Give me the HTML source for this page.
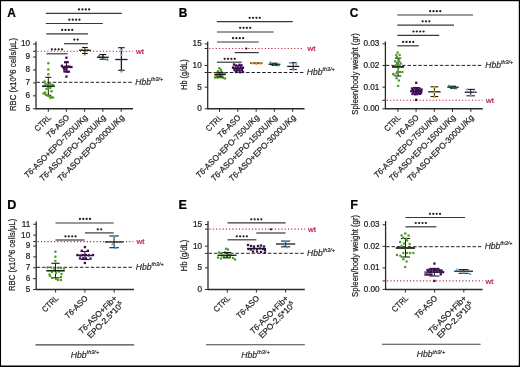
<!DOCTYPE html>
<html><head><meta charset="utf-8"><style>
html,body{margin:0;padding:0;background:#fff;}
#fig{position:relative;width:520px;height:367px;overflow:hidden;background:#fff;}
svg{position:absolute;left:0;top:0;will-change:transform;}
text{font-family:"Liberation Sans", sans-serif;}
</style></head><body><div id="fig">
<svg width="520" height="367" viewBox="0 0 520 367">
<rect x="0" y="0" width="520" height="367" fill="#fff"/>
<text x="7.30" y="16.50" font-size="11.9" fill="#000" stroke="#000" stroke-width="0.22" font-weight="bold">A</text>
<text x="178.80" y="16.60" font-size="11.9" fill="#000" stroke="#000" stroke-width="0.22" font-weight="bold">B</text>
<text x="349.80" y="16.50" font-size="11.9" fill="#000" stroke="#000" stroke-width="0.22" font-weight="bold">C</text>
<text x="7.20" y="208.70" font-size="12.6" fill="#000" stroke="#000" stroke-width="0.22" font-weight="bold">D</text>
<text x="178.60" y="208.70" font-size="12.6" fill="#000" stroke="#000" stroke-width="0.22" font-weight="bold">E</text>
<text x="350.30" y="208.70" font-size="12.6" fill="#000" stroke="#000" stroke-width="0.22" font-weight="bold">F</text>
<line x1="36.00" y1="41.50" x2="36.00" y2="109.30" stroke="#2a2a2a" stroke-width="1.3" stroke-linecap="butt"/>
<line x1="36.00" y1="108.80" x2="133.00" y2="108.80" stroke="#2a2a2a" stroke-width="1.4" stroke-linecap="butt"/>
<line x1="33.00" y1="108.80" x2="36.00" y2="108.80" stroke="#2a2a2a" stroke-width="1.0" stroke-linecap="butt"/>
<text x="30.00" y="111.20" font-size="8.2" fill="#222" stroke="#222" stroke-width="0.22" text-anchor="end">5</text>
<line x1="33.00" y1="95.85" x2="36.00" y2="95.85" stroke="#2a2a2a" stroke-width="1.0" stroke-linecap="butt"/>
<text x="30.00" y="98.25" font-size="8.2" fill="#222" stroke="#222" stroke-width="0.22" text-anchor="end">6</text>
<line x1="33.00" y1="82.90" x2="36.00" y2="82.90" stroke="#2a2a2a" stroke-width="1.0" stroke-linecap="butt"/>
<text x="30.00" y="85.30" font-size="8.2" fill="#222" stroke="#222" stroke-width="0.22" text-anchor="end">7</text>
<line x1="33.00" y1="69.95" x2="36.00" y2="69.95" stroke="#2a2a2a" stroke-width="1.0" stroke-linecap="butt"/>
<text x="30.00" y="72.35" font-size="8.2" fill="#222" stroke="#222" stroke-width="0.22" text-anchor="end">8</text>
<line x1="33.00" y1="57.00" x2="36.00" y2="57.00" stroke="#2a2a2a" stroke-width="1.0" stroke-linecap="butt"/>
<text x="30.00" y="59.40" font-size="8.2" fill="#222" stroke="#222" stroke-width="0.22" text-anchor="end">9</text>
<line x1="33.00" y1="44.05" x2="36.00" y2="44.05" stroke="#2a2a2a" stroke-width="1.0" stroke-linecap="butt"/>
<text x="30.00" y="46.45" font-size="8.2" fill="#222" stroke="#222" stroke-width="0.22" text-anchor="end">10</text>
<line x1="33.00" y1="51.30" x2="36.00" y2="51.30" stroke="#2a2a2a" stroke-width="1.0" stroke-linecap="butt"/>
<line x1="48.30" y1="108.80" x2="48.30" y2="111.80" stroke="#2a2a2a" stroke-width="1.0" stroke-linecap="butt"/>
<line x1="66.40" y1="108.80" x2="66.40" y2="111.80" stroke="#2a2a2a" stroke-width="1.0" stroke-linecap="butt"/>
<line x1="84.60" y1="108.80" x2="84.60" y2="111.80" stroke="#2a2a2a" stroke-width="1.0" stroke-linecap="butt"/>
<line x1="102.90" y1="108.80" x2="102.90" y2="111.80" stroke="#2a2a2a" stroke-width="1.0" stroke-linecap="butt"/>
<line x1="121.20" y1="108.80" x2="121.20" y2="111.80" stroke="#2a2a2a" stroke-width="1.0" stroke-linecap="butt"/>
<line x1="37.50" y1="51.30" x2="133.10" y2="51.30" stroke="#b8194b" stroke-width="1.1" stroke-dasharray="1.1 2.17" stroke-linecap="butt"/>
<line x1="36.50" y1="82.30" x2="132.50" y2="82.30" stroke="#222" stroke-width="1.0" stroke-dasharray="3.5 1.9" stroke-linecap="butt"/>
<text x="136.10" y="53.90" font-size="8" fill="#b8194b" stroke="#b8194b" stroke-width="0.22">wt</text>
<text x="135.30" y="84.70" font-size="8.5" fill="#333" stroke="#333" stroke-width="0.22" font-style="italic"><tspan>Hbb</tspan><tspan font-size="5.4" dy="-3.9">th3/+</tspan></text>
<text x="15.50" y="74.50" font-size="9.6" fill="#222" stroke="#222" stroke-width="0.22" text-anchor="middle" transform="rotate(-90 15.5 74.5)" textLength="73" lengthAdjust="spacingAndGlyphs">RBC (x10^6 cells/µL)</text>
<line x1="45.80" y1="13.30" x2="121.80" y2="13.30" stroke="#383838" stroke-width="1.2" stroke-linecap="butt"/>
<circle cx="79.04" cy="9.40" r="1.12" fill="#1c1c1c"/>
<circle cx="82.41" cy="9.40" r="1.12" fill="#1c1c1c"/>
<circle cx="85.78" cy="9.40" r="1.12" fill="#1c1c1c"/>
<circle cx="89.16" cy="9.40" r="1.12" fill="#1c1c1c"/>
<line x1="45.80" y1="23.50" x2="102.80" y2="23.50" stroke="#383838" stroke-width="1.2" stroke-linecap="butt"/>
<circle cx="69.34" cy="19.70" r="1.12" fill="#1c1c1c"/>
<circle cx="72.72" cy="19.70" r="1.12" fill="#1c1c1c"/>
<circle cx="76.09" cy="19.70" r="1.12" fill="#1c1c1c"/>
<circle cx="79.46" cy="19.70" r="1.12" fill="#1c1c1c"/>
<line x1="46.30" y1="33.80" x2="87.90" y2="33.80" stroke="#383838" stroke-width="1.2" stroke-linecap="butt"/>
<circle cx="62.15" cy="29.90" r="1.12" fill="#1c1c1c"/>
<circle cx="65.52" cy="29.90" r="1.12" fill="#1c1c1c"/>
<circle cx="68.89" cy="29.90" r="1.12" fill="#1c1c1c"/>
<circle cx="72.25" cy="29.90" r="1.12" fill="#1c1c1c"/>
<line x1="63.90" y1="43.70" x2="87.90" y2="43.70" stroke="#383838" stroke-width="1.2" stroke-linecap="butt"/>
<circle cx="74.31" cy="39.60" r="1.12" fill="#1c1c1c"/>
<circle cx="77.69" cy="39.60" r="1.12" fill="#1c1c1c"/>
<line x1="46.40" y1="53.80" x2="67.50" y2="53.80" stroke="#383838" stroke-width="1.2" stroke-linecap="butt"/>
<circle cx="51.95" cy="49.30" r="1.12" fill="#1c1c1c"/>
<circle cx="55.31" cy="49.30" r="1.12" fill="#1c1c1c"/>
<circle cx="58.69" cy="49.30" r="1.12" fill="#1c1c1c"/>
<circle cx="62.05" cy="49.30" r="1.12" fill="#1c1c1c"/>
<text font-size="8.3" fill="#222" stroke="#222" stroke-width="0.22" text-anchor="end" textLength="19.6" lengthAdjust="spacingAndGlyphs" transform="translate(51.70,118.10) rotate(-45)">CTRL</text>
<text font-size="8.3" fill="#222" stroke="#222" stroke-width="0.22" text-anchor="end" textLength="28.8" lengthAdjust="spacingAndGlyphs" transform="translate(69.80,118.10) rotate(-45)"><tspan font-style="italic">T6</tspan>-ASO</text>
<text font-size="8.3" fill="#222" stroke="#222" stroke-width="0.22" text-anchor="end" textLength="85.5" lengthAdjust="spacingAndGlyphs" transform="translate(88.00,118.10) rotate(-45)"><tspan font-style="italic">T6</tspan>-ASO+EPO-750U/Kg</text>
<text font-size="8.3" fill="#222" stroke="#222" stroke-width="0.22" text-anchor="end" textLength="90.0" lengthAdjust="spacingAndGlyphs" transform="translate(106.30,118.10) rotate(-45)"><tspan font-style="italic">T6</tspan>-ASO+EPO-1500U/Kg</text>
<text font-size="8.3" fill="#222" stroke="#222" stroke-width="0.22" text-anchor="end" textLength="90.3" lengthAdjust="spacingAndGlyphs" transform="translate(124.60,118.10) rotate(-45)"><tspan font-style="italic">T6</tspan>-ASO+EPO-3000U/Kg</text>
<line x1="207.70" y1="41.50" x2="207.70" y2="109.30" stroke="#2a2a2a" stroke-width="1.3" stroke-linecap="butt"/>
<line x1="207.70" y1="108.80" x2="304.50" y2="108.80" stroke="#2a2a2a" stroke-width="1.4" stroke-linecap="butt"/>
<line x1="204.70" y1="108.80" x2="207.70" y2="108.80" stroke="#2a2a2a" stroke-width="1.0" stroke-linecap="butt"/>
<text x="201.70" y="111.20" font-size="8.2" fill="#222" stroke="#222" stroke-width="0.22" text-anchor="end">0</text>
<line x1="204.70" y1="87.15" x2="207.70" y2="87.15" stroke="#2a2a2a" stroke-width="1.0" stroke-linecap="butt"/>
<text x="201.70" y="89.55" font-size="8.2" fill="#222" stroke="#222" stroke-width="0.22" text-anchor="end">5</text>
<line x1="204.70" y1="65.50" x2="207.70" y2="65.50" stroke="#2a2a2a" stroke-width="1.0" stroke-linecap="butt"/>
<text x="201.70" y="67.90" font-size="8.2" fill="#222" stroke="#222" stroke-width="0.22" text-anchor="end">10</text>
<line x1="204.70" y1="43.85" x2="207.70" y2="43.85" stroke="#2a2a2a" stroke-width="1.0" stroke-linecap="butt"/>
<text x="201.70" y="46.25" font-size="8.2" fill="#222" stroke="#222" stroke-width="0.22" text-anchor="end">15</text>
<line x1="204.70" y1="48.50" x2="207.70" y2="48.50" stroke="#2a2a2a" stroke-width="1.0" stroke-linecap="butt"/>
<line x1="204.70" y1="72.50" x2="207.70" y2="72.50" stroke="#2a2a2a" stroke-width="1.0" stroke-linecap="butt"/>
<line x1="219.50" y1="108.80" x2="219.50" y2="111.80" stroke="#2a2a2a" stroke-width="1.0" stroke-linecap="butt"/>
<line x1="237.80" y1="108.80" x2="237.80" y2="111.80" stroke="#2a2a2a" stroke-width="1.0" stroke-linecap="butt"/>
<line x1="256.20" y1="108.80" x2="256.20" y2="111.80" stroke="#2a2a2a" stroke-width="1.0" stroke-linecap="butt"/>
<line x1="274.40" y1="108.80" x2="274.40" y2="111.80" stroke="#2a2a2a" stroke-width="1.0" stroke-linecap="butt"/>
<line x1="292.70" y1="108.80" x2="292.70" y2="111.80" stroke="#2a2a2a" stroke-width="1.0" stroke-linecap="butt"/>
<line x1="209.20" y1="48.50" x2="304.00" y2="48.50" stroke="#b8194b" stroke-width="1.1" stroke-dasharray="1.1 2.17" stroke-linecap="butt"/>
<line x1="208.20" y1="72.50" x2="303.40" y2="72.50" stroke="#222" stroke-width="1.0" stroke-dasharray="3.5 1.9" stroke-linecap="butt"/>
<text x="307.60" y="51.10" font-size="8" fill="#b8194b" stroke="#b8194b" stroke-width="0.22">wt</text>
<text x="306.80" y="74.90" font-size="8.5" fill="#333" stroke="#333" stroke-width="0.22" font-style="italic"><tspan>Hbb</tspan><tspan font-size="5.4" dy="-3.9">th3/+</tspan></text>
<text x="186.70" y="74.50" font-size="9.6" fill="#222" stroke="#222" stroke-width="0.22" text-anchor="middle" transform="rotate(-90 186.7 74.5)" textLength="30.6" lengthAdjust="spacingAndGlyphs">Hb (g/dL)</text>
<line x1="216.90" y1="21.60" x2="292.70" y2="21.60" stroke="#383838" stroke-width="1.2" stroke-linecap="butt"/>
<circle cx="249.64" cy="17.80" r="1.12" fill="#1c1c1c"/>
<circle cx="253.01" cy="17.80" r="1.12" fill="#1c1c1c"/>
<circle cx="256.38" cy="17.80" r="1.12" fill="#1c1c1c"/>
<circle cx="259.75" cy="17.80" r="1.12" fill="#1c1c1c"/>
<line x1="216.90" y1="32.00" x2="273.70" y2="32.00" stroke="#383838" stroke-width="1.2" stroke-linecap="butt"/>
<circle cx="240.14" cy="27.80" r="1.12" fill="#1c1c1c"/>
<circle cx="243.51" cy="27.80" r="1.12" fill="#1c1c1c"/>
<circle cx="246.88" cy="27.80" r="1.12" fill="#1c1c1c"/>
<circle cx="250.25" cy="27.80" r="1.12" fill="#1c1c1c"/>
<line x1="216.90" y1="42.00" x2="258.80" y2="42.00" stroke="#383838" stroke-width="1.2" stroke-linecap="butt"/>
<circle cx="233.04" cy="38.20" r="1.12" fill="#1c1c1c"/>
<circle cx="236.41" cy="38.20" r="1.12" fill="#1c1c1c"/>
<circle cx="239.78" cy="38.20" r="1.12" fill="#1c1c1c"/>
<circle cx="243.16" cy="38.20" r="1.12" fill="#1c1c1c"/>
<line x1="234.70" y1="52.60" x2="258.80" y2="52.60" stroke="#383838" stroke-width="1.2" stroke-linecap="butt"/>
<circle cx="246.30" cy="48.60" r="1.12" fill="#1c1c1c"/>
<line x1="216.90" y1="62.20" x2="241.70" y2="62.20" stroke="#383838" stroke-width="1.2" stroke-linecap="butt"/>
<circle cx="224.64" cy="58.80" r="1.12" fill="#1c1c1c"/>
<circle cx="228.01" cy="58.80" r="1.12" fill="#1c1c1c"/>
<circle cx="231.38" cy="58.80" r="1.12" fill="#1c1c1c"/>
<circle cx="234.75" cy="58.80" r="1.12" fill="#1c1c1c"/>
<text font-size="8.3" fill="#222" stroke="#222" stroke-width="0.22" text-anchor="end" textLength="19.6" lengthAdjust="spacingAndGlyphs" transform="translate(222.90,118.10) rotate(-45)">CTRL</text>
<text font-size="8.3" fill="#222" stroke="#222" stroke-width="0.22" text-anchor="end" textLength="28.8" lengthAdjust="spacingAndGlyphs" transform="translate(241.20,118.10) rotate(-45)"><tspan font-style="italic">T6</tspan>-ASO</text>
<text font-size="8.3" fill="#222" stroke="#222" stroke-width="0.22" text-anchor="end" textLength="85.5" lengthAdjust="spacingAndGlyphs" transform="translate(259.60,118.10) rotate(-45)"><tspan font-style="italic">T6</tspan>-ASO+EPO-750U/Kg</text>
<text font-size="8.3" fill="#222" stroke="#222" stroke-width="0.22" text-anchor="end" textLength="90.0" lengthAdjust="spacingAndGlyphs" transform="translate(277.80,118.10) rotate(-45)"><tspan font-style="italic">T6</tspan>-ASO+EPO-1500U/Kg</text>
<text font-size="8.3" fill="#222" stroke="#222" stroke-width="0.22" text-anchor="end" textLength="90.3" lengthAdjust="spacingAndGlyphs" transform="translate(296.10,118.10) rotate(-45)"><tspan font-style="italic">T6</tspan>-ASO+EPO-3000U/Kg</text>
<line x1="385.40" y1="41.50" x2="385.40" y2="109.30" stroke="#2a2a2a" stroke-width="1.3" stroke-linecap="butt"/>
<line x1="385.40" y1="108.80" x2="482.80" y2="108.80" stroke="#2a2a2a" stroke-width="1.4" stroke-linecap="butt"/>
<line x1="382.40" y1="108.80" x2="385.40" y2="108.80" stroke="#2a2a2a" stroke-width="1.0" stroke-linecap="butt"/>
<text x="379.40" y="111.20" font-size="8.2" fill="#222" stroke="#222" stroke-width="0.22" text-anchor="end">0.00</text>
<line x1="382.40" y1="87.15" x2="385.40" y2="87.15" stroke="#2a2a2a" stroke-width="1.0" stroke-linecap="butt"/>
<text x="379.40" y="89.55" font-size="8.2" fill="#222" stroke="#222" stroke-width="0.22" text-anchor="end">0.01</text>
<line x1="382.40" y1="65.50" x2="385.40" y2="65.50" stroke="#2a2a2a" stroke-width="1.0" stroke-linecap="butt"/>
<text x="379.40" y="67.90" font-size="8.2" fill="#222" stroke="#222" stroke-width="0.22" text-anchor="end">0.02</text>
<line x1="382.40" y1="43.85" x2="385.40" y2="43.85" stroke="#2a2a2a" stroke-width="1.0" stroke-linecap="butt"/>
<text x="379.40" y="46.25" font-size="8.2" fill="#222" stroke="#222" stroke-width="0.22" text-anchor="end">0.03</text>
<line x1="382.40" y1="100.30" x2="385.40" y2="100.30" stroke="#2a2a2a" stroke-width="1.0" stroke-linecap="butt"/>
<line x1="397.90" y1="108.80" x2="397.90" y2="111.80" stroke="#2a2a2a" stroke-width="1.0" stroke-linecap="butt"/>
<line x1="416.10" y1="108.80" x2="416.10" y2="111.80" stroke="#2a2a2a" stroke-width="1.0" stroke-linecap="butt"/>
<line x1="434.30" y1="108.80" x2="434.30" y2="111.80" stroke="#2a2a2a" stroke-width="1.0" stroke-linecap="butt"/>
<line x1="452.50" y1="108.80" x2="452.50" y2="111.80" stroke="#2a2a2a" stroke-width="1.0" stroke-linecap="butt"/>
<line x1="470.90" y1="108.80" x2="470.90" y2="111.80" stroke="#2a2a2a" stroke-width="1.0" stroke-linecap="butt"/>
<line x1="386.90" y1="100.30" x2="482.50" y2="100.30" stroke="#b8194b" stroke-width="1.1" stroke-dasharray="1.1 2.17" stroke-linecap="butt"/>
<line x1="385.90" y1="65.40" x2="481.90" y2="65.40" stroke="#222" stroke-width="1.0" stroke-dasharray="3.5 1.9" stroke-linecap="butt"/>
<text x="486.10" y="102.90" font-size="8" fill="#b8194b" stroke="#b8194b" stroke-width="0.22">wt</text>
<text x="485.30" y="67.80" font-size="8.5" fill="#333" stroke="#333" stroke-width="0.22" font-style="italic"><tspan>Hbb</tspan><tspan font-size="5.4" dy="-3.9">th3/+</tspan></text>
<text x="358.20" y="73.90" font-size="9.6" fill="#222" stroke="#222" stroke-width="0.22" text-anchor="middle" transform="rotate(-90 358.2 73.9)" textLength="81.5" lengthAdjust="spacingAndGlyphs">Spleen/body weight (gr)</text>
<line x1="397.30" y1="15.00" x2="473.00" y2="15.00" stroke="#383838" stroke-width="1.2" stroke-linecap="butt"/>
<circle cx="430.14" cy="11.20" r="1.12" fill="#1c1c1c"/>
<circle cx="433.51" cy="11.20" r="1.12" fill="#1c1c1c"/>
<circle cx="436.88" cy="11.20" r="1.12" fill="#1c1c1c"/>
<circle cx="440.25" cy="11.20" r="1.12" fill="#1c1c1c"/>
<line x1="397.30" y1="25.20" x2="454.00" y2="25.20" stroke="#383838" stroke-width="1.2" stroke-linecap="butt"/>
<circle cx="422.63" cy="21.30" r="1.12" fill="#1c1c1c"/>
<circle cx="426.00" cy="21.30" r="1.12" fill="#1c1c1c"/>
<circle cx="429.37" cy="21.30" r="1.12" fill="#1c1c1c"/>
<line x1="397.30" y1="35.40" x2="439.20" y2="35.40" stroke="#383838" stroke-width="1.2" stroke-linecap="butt"/>
<circle cx="413.44" cy="31.50" r="1.12" fill="#1c1c1c"/>
<circle cx="416.81" cy="31.50" r="1.12" fill="#1c1c1c"/>
<circle cx="420.19" cy="31.50" r="1.12" fill="#1c1c1c"/>
<circle cx="423.56" cy="31.50" r="1.12" fill="#1c1c1c"/>
<line x1="397.30" y1="45.80" x2="418.80" y2="45.80" stroke="#383838" stroke-width="1.2" stroke-linecap="butt"/>
<circle cx="403.14" cy="41.90" r="1.12" fill="#1c1c1c"/>
<circle cx="406.51" cy="41.90" r="1.12" fill="#1c1c1c"/>
<circle cx="409.88" cy="41.90" r="1.12" fill="#1c1c1c"/>
<circle cx="413.25" cy="41.90" r="1.12" fill="#1c1c1c"/>
<text font-size="8.3" fill="#222" stroke="#222" stroke-width="0.22" text-anchor="end" textLength="19.6" lengthAdjust="spacingAndGlyphs" transform="translate(401.30,118.10) rotate(-45)">CTRL</text>
<text font-size="8.3" fill="#222" stroke="#222" stroke-width="0.22" text-anchor="end" textLength="28.8" lengthAdjust="spacingAndGlyphs" transform="translate(419.50,118.10) rotate(-45)"><tspan font-style="italic">T6</tspan>-ASO</text>
<text font-size="8.3" fill="#222" stroke="#222" stroke-width="0.22" text-anchor="end" textLength="85.5" lengthAdjust="spacingAndGlyphs" transform="translate(437.70,118.10) rotate(-45)"><tspan font-style="italic">T6</tspan>-ASO+EPO-750U/Kg</text>
<text font-size="8.3" fill="#222" stroke="#222" stroke-width="0.22" text-anchor="end" textLength="90.0" lengthAdjust="spacingAndGlyphs" transform="translate(455.90,118.10) rotate(-45)"><tspan font-style="italic">T6</tspan>-ASO+EPO-1500U/Kg</text>
<text font-size="8.3" fill="#222" stroke="#222" stroke-width="0.22" text-anchor="end" textLength="90.3" lengthAdjust="spacingAndGlyphs" transform="translate(474.30,118.10) rotate(-45)"><tspan font-style="italic">T6</tspan>-ASO+EPO-3000U/Kg</text>
<line x1="36.20" y1="221.40" x2="36.20" y2="290.00" stroke="#2a2a2a" stroke-width="1.3" stroke-linecap="butt"/>
<line x1="36.20" y1="289.50" x2="134.00" y2="289.50" stroke="#2a2a2a" stroke-width="1.4" stroke-linecap="butt"/>
<line x1="33.20" y1="289.50" x2="36.20" y2="289.50" stroke="#2a2a2a" stroke-width="1.0" stroke-linecap="butt"/>
<text x="30.20" y="291.90" font-size="8.2" fill="#222" stroke="#222" stroke-width="0.22" text-anchor="end">5</text>
<line x1="33.20" y1="278.63" x2="36.20" y2="278.63" stroke="#2a2a2a" stroke-width="1.0" stroke-linecap="butt"/>
<text x="30.20" y="281.03" font-size="8.2" fill="#222" stroke="#222" stroke-width="0.22" text-anchor="end">6</text>
<line x1="33.20" y1="267.76" x2="36.20" y2="267.76" stroke="#2a2a2a" stroke-width="1.0" stroke-linecap="butt"/>
<text x="30.20" y="270.16" font-size="8.2" fill="#222" stroke="#222" stroke-width="0.22" text-anchor="end">7</text>
<line x1="33.20" y1="256.89" x2="36.20" y2="256.89" stroke="#2a2a2a" stroke-width="1.0" stroke-linecap="butt"/>
<text x="30.20" y="259.29" font-size="8.2" fill="#222" stroke="#222" stroke-width="0.22" text-anchor="end">8</text>
<line x1="33.20" y1="246.02" x2="36.20" y2="246.02" stroke="#2a2a2a" stroke-width="1.0" stroke-linecap="butt"/>
<text x="30.20" y="248.42" font-size="8.2" fill="#222" stroke="#222" stroke-width="0.22" text-anchor="end">9</text>
<line x1="33.20" y1="235.15" x2="36.20" y2="235.15" stroke="#2a2a2a" stroke-width="1.0" stroke-linecap="butt"/>
<text x="30.20" y="237.55" font-size="8.2" fill="#222" stroke="#222" stroke-width="0.22" text-anchor="end">10</text>
<line x1="33.20" y1="224.28" x2="36.20" y2="224.28" stroke="#2a2a2a" stroke-width="1.0" stroke-linecap="butt"/>
<text x="30.20" y="226.68" font-size="8.2" fill="#222" stroke="#222" stroke-width="0.22" text-anchor="end">11</text>
<line x1="33.20" y1="241.50" x2="36.20" y2="241.50" stroke="#2a2a2a" stroke-width="1.0" stroke-linecap="butt"/>
<line x1="55.60" y1="289.50" x2="55.60" y2="292.50" stroke="#2a2a2a" stroke-width="1.0" stroke-linecap="butt"/>
<line x1="84.90" y1="289.50" x2="84.90" y2="292.50" stroke="#2a2a2a" stroke-width="1.0" stroke-linecap="butt"/>
<line x1="114.20" y1="289.50" x2="114.20" y2="292.50" stroke="#2a2a2a" stroke-width="1.0" stroke-linecap="butt"/>
<line x1="37.70" y1="241.60" x2="133.30" y2="241.60" stroke="#b8194b" stroke-width="1.1" stroke-dasharray="1.1 2.17" stroke-linecap="butt"/>
<line x1="36.70" y1="267.30" x2="132.70" y2="267.30" stroke="#222" stroke-width="1.0" stroke-dasharray="3.5 1.9" stroke-linecap="butt"/>
<text x="136.60" y="244.20" font-size="8" fill="#b8194b" stroke="#b8194b" stroke-width="0.22">wt</text>
<text x="135.80" y="269.70" font-size="8.5" fill="#333" stroke="#333" stroke-width="0.22" font-style="italic"><tspan>Hbb</tspan><tspan font-size="5.4" dy="-3.9">th3/+</tspan></text>
<text x="15.50" y="254.80" font-size="9.6" fill="#222" stroke="#222" stroke-width="0.22" text-anchor="middle" transform="rotate(-90 15.5 254.8)" textLength="72.3" lengthAdjust="spacingAndGlyphs">RBC (x10^6 cells/µL)</text>
<line x1="55.50" y1="223.00" x2="113.70" y2="223.00" stroke="#383838" stroke-width="1.2" stroke-linecap="butt"/>
<circle cx="79.94" cy="218.90" r="1.12" fill="#1c1c1c"/>
<circle cx="83.31" cy="218.90" r="1.12" fill="#1c1c1c"/>
<circle cx="86.69" cy="218.90" r="1.12" fill="#1c1c1c"/>
<circle cx="90.06" cy="218.90" r="1.12" fill="#1c1c1c"/>
<line x1="85.00" y1="232.90" x2="113.70" y2="232.90" stroke="#383838" stroke-width="1.2" stroke-linecap="butt"/>
<circle cx="97.81" cy="229.30" r="1.12" fill="#1c1c1c"/>
<circle cx="101.19" cy="229.30" r="1.12" fill="#1c1c1c"/>
<line x1="55.50" y1="240.00" x2="84.50" y2="240.00" stroke="#383838" stroke-width="1.2" stroke-linecap="butt"/>
<circle cx="65.44" cy="236.30" r="1.12" fill="#1c1c1c"/>
<circle cx="68.81" cy="236.30" r="1.12" fill="#1c1c1c"/>
<circle cx="72.19" cy="236.30" r="1.12" fill="#1c1c1c"/>
<circle cx="75.56" cy="236.30" r="1.12" fill="#1c1c1c"/>
<text font-size="8.3" fill="#222" stroke="#222" stroke-width="0.22" text-anchor="end" textLength="19.6" lengthAdjust="spacingAndGlyphs" transform="translate(59.00,298.80) rotate(-45)">CTRL</text>
<text font-size="8.3" fill="#222" stroke="#222" stroke-width="0.22" text-anchor="end" textLength="28.8" lengthAdjust="spacingAndGlyphs" transform="translate(88.30,298.80) rotate(-45)"><tspan font-style="italic">T6</tspan>-ASO</text>
<text font-size="8.3" fill="#222" stroke="#222" stroke-width="0.22" text-anchor="end" textLength="50.6" lengthAdjust="spacingAndGlyphs" transform="translate(117.60,298.80) rotate(-45)"><tspan font-style="italic">T6</tspan>-ASO+Fib+</text>
<text font-size="8.3" fill="#222" stroke="#222" stroke-width="0.22" text-anchor="end" transform="translate(124.10,305.30) rotate(-45)">EPO-2.5*10<tspan font-size="5.6" dy="-3.2">5</tspan></text>
<line x1="35.50" y1="344.90" x2="134.10" y2="344.90" stroke="#444" stroke-width="1.1" stroke-linecap="butt"/>
<text x="85.00" y="357.70" font-size="8.6" fill="#333" stroke="#333" stroke-width="0.22" text-anchor="middle"><tspan font-style="italic">Hbb</tspan><tspan font-size="5.6" dy="-3.4" font-style="italic">th3/+</tspan></text>
<line x1="208.00" y1="221.00" x2="208.00" y2="290.00" stroke="#2a2a2a" stroke-width="1.3" stroke-linecap="butt"/>
<line x1="208.00" y1="289.50" x2="304.80" y2="289.50" stroke="#2a2a2a" stroke-width="1.4" stroke-linecap="butt"/>
<line x1="205.00" y1="289.50" x2="208.00" y2="289.50" stroke="#2a2a2a" stroke-width="1.0" stroke-linecap="butt"/>
<text x="202.00" y="291.90" font-size="8.2" fill="#222" stroke="#222" stroke-width="0.22" text-anchor="end">0</text>
<line x1="205.00" y1="267.85" x2="208.00" y2="267.85" stroke="#2a2a2a" stroke-width="1.0" stroke-linecap="butt"/>
<text x="202.00" y="270.25" font-size="8.2" fill="#222" stroke="#222" stroke-width="0.22" text-anchor="end">5</text>
<line x1="205.00" y1="246.20" x2="208.00" y2="246.20" stroke="#2a2a2a" stroke-width="1.0" stroke-linecap="butt"/>
<text x="202.00" y="248.60" font-size="8.2" fill="#222" stroke="#222" stroke-width="0.22" text-anchor="end">10</text>
<line x1="205.00" y1="224.55" x2="208.00" y2="224.55" stroke="#2a2a2a" stroke-width="1.0" stroke-linecap="butt"/>
<text x="202.00" y="226.95" font-size="8.2" fill="#222" stroke="#222" stroke-width="0.22" text-anchor="end">15</text>
<line x1="205.00" y1="229.10" x2="208.00" y2="229.10" stroke="#2a2a2a" stroke-width="1.0" stroke-linecap="butt"/>
<line x1="205.00" y1="253.30" x2="208.00" y2="253.30" stroke="#2a2a2a" stroke-width="1.0" stroke-linecap="butt"/>
<line x1="227.30" y1="289.50" x2="227.30" y2="292.50" stroke="#2a2a2a" stroke-width="1.0" stroke-linecap="butt"/>
<line x1="256.40" y1="289.50" x2="256.40" y2="292.50" stroke="#2a2a2a" stroke-width="1.0" stroke-linecap="butt"/>
<line x1="285.60" y1="289.50" x2="285.60" y2="292.50" stroke="#2a2a2a" stroke-width="1.0" stroke-linecap="butt"/>
<line x1="209.50" y1="229.10" x2="305.10" y2="229.10" stroke="#b8194b" stroke-width="1.1" stroke-dasharray="1.1 2.17" stroke-linecap="butt"/>
<line x1="208.50" y1="253.30" x2="304.50" y2="253.30" stroke="#222" stroke-width="1.0" stroke-dasharray="3.5 1.9" stroke-linecap="butt"/>
<text x="307.90" y="231.70" font-size="8" fill="#b8194b" stroke="#b8194b" stroke-width="0.22">wt</text>
<text x="307.10" y="255.70" font-size="8.5" fill="#333" stroke="#333" stroke-width="0.22" font-style="italic"><tspan>Hbb</tspan><tspan font-size="5.4" dy="-3.9">th3/+</tspan></text>
<text x="186.80" y="255.40" font-size="9.6" fill="#222" stroke="#222" stroke-width="0.22" text-anchor="middle" transform="rotate(-90 186.8 255.4)" textLength="31.5" lengthAdjust="spacingAndGlyphs">Hb (g/dL)</text>
<line x1="227.50" y1="222.90" x2="285.60" y2="222.90" stroke="#383838" stroke-width="1.2" stroke-linecap="butt"/>
<circle cx="251.25" cy="219.30" r="1.12" fill="#1c1c1c"/>
<circle cx="254.62" cy="219.30" r="1.12" fill="#1c1c1c"/>
<circle cx="257.99" cy="219.30" r="1.12" fill="#1c1c1c"/>
<circle cx="261.36" cy="219.30" r="1.12" fill="#1c1c1c"/>
<line x1="256.30" y1="233.00" x2="285.60" y2="233.00" stroke="#383838" stroke-width="1.2" stroke-linecap="butt"/>
<circle cx="271.00" cy="229.30" r="1.12" fill="#1c1c1c"/>
<line x1="227.50" y1="239.80" x2="256.30" y2="239.80" stroke="#383838" stroke-width="1.2" stroke-linecap="butt"/>
<circle cx="236.75" cy="236.30" r="1.12" fill="#1c1c1c"/>
<circle cx="240.12" cy="236.30" r="1.12" fill="#1c1c1c"/>
<circle cx="243.49" cy="236.30" r="1.12" fill="#1c1c1c"/>
<circle cx="246.86" cy="236.30" r="1.12" fill="#1c1c1c"/>
<text font-size="8.3" fill="#222" stroke="#222" stroke-width="0.22" text-anchor="end" textLength="19.6" lengthAdjust="spacingAndGlyphs" transform="translate(230.70,298.80) rotate(-45)">CTRL</text>
<text font-size="8.3" fill="#222" stroke="#222" stroke-width="0.22" text-anchor="end" textLength="28.8" lengthAdjust="spacingAndGlyphs" transform="translate(259.80,298.80) rotate(-45)"><tspan font-style="italic">T6</tspan>-ASO</text>
<text font-size="8.3" fill="#222" stroke="#222" stroke-width="0.22" text-anchor="end" textLength="50.6" lengthAdjust="spacingAndGlyphs" transform="translate(289.00,298.80) rotate(-45)"><tspan font-style="italic">T6</tspan>-ASO+Fib+</text>
<text font-size="8.3" fill="#222" stroke="#222" stroke-width="0.22" text-anchor="end" transform="translate(295.50,305.30) rotate(-45)">EPO-2.5*10<tspan font-size="5.6" dy="-3.2">5</tspan></text>
<line x1="206.00" y1="344.80" x2="304.80" y2="344.80" stroke="#444" stroke-width="1.1" stroke-linecap="butt"/>
<text x="255.50" y="357.60" font-size="8.6" fill="#333" stroke="#333" stroke-width="0.22" text-anchor="middle"><tspan font-style="italic">Hbb</tspan><tspan font-size="5.6" dy="-3.4" font-style="italic">th3/+</tspan></text>
<line x1="385.60" y1="221.00" x2="385.60" y2="290.00" stroke="#2a2a2a" stroke-width="1.3" stroke-linecap="butt"/>
<line x1="385.60" y1="289.50" x2="482.60" y2="289.50" stroke="#2a2a2a" stroke-width="1.4" stroke-linecap="butt"/>
<line x1="382.60" y1="289.40" x2="385.60" y2="289.40" stroke="#2a2a2a" stroke-width="1.0" stroke-linecap="butt"/>
<text x="379.60" y="291.80" font-size="8.2" fill="#222" stroke="#222" stroke-width="0.22" text-anchor="end">0.00</text>
<line x1="382.60" y1="267.85" x2="385.60" y2="267.85" stroke="#2a2a2a" stroke-width="1.0" stroke-linecap="butt"/>
<text x="379.60" y="270.25" font-size="8.2" fill="#222" stroke="#222" stroke-width="0.22" text-anchor="end">0.01</text>
<line x1="382.60" y1="246.30" x2="385.60" y2="246.30" stroke="#2a2a2a" stroke-width="1.0" stroke-linecap="butt"/>
<text x="379.60" y="248.70" font-size="8.2" fill="#222" stroke="#222" stroke-width="0.22" text-anchor="end">0.02</text>
<line x1="382.60" y1="224.75" x2="385.60" y2="224.75" stroke="#2a2a2a" stroke-width="1.0" stroke-linecap="butt"/>
<text x="379.60" y="227.15" font-size="8.2" fill="#222" stroke="#222" stroke-width="0.22" text-anchor="end">0.03</text>
<line x1="382.60" y1="280.90" x2="385.60" y2="280.90" stroke="#2a2a2a" stroke-width="1.0" stroke-linecap="butt"/>
<line x1="405.40" y1="289.50" x2="405.40" y2="292.50" stroke="#2a2a2a" stroke-width="1.0" stroke-linecap="butt"/>
<line x1="434.60" y1="289.50" x2="434.60" y2="292.50" stroke="#2a2a2a" stroke-width="1.0" stroke-linecap="butt"/>
<line x1="463.80" y1="289.50" x2="463.80" y2="292.50" stroke="#2a2a2a" stroke-width="1.0" stroke-linecap="butt"/>
<line x1="387.10" y1="280.90" x2="482.50" y2="280.90" stroke="#b8194b" stroke-width="1.1" stroke-dasharray="1.1 2.17" stroke-linecap="butt"/>
<line x1="386.10" y1="246.70" x2="481.90" y2="246.70" stroke="#222" stroke-width="1.0" stroke-dasharray="3.5 1.9" stroke-linecap="butt"/>
<text x="485.50" y="283.50" font-size="8" fill="#b8194b" stroke="#b8194b" stroke-width="0.22">wt</text>
<text x="484.70" y="249.10" font-size="8.5" fill="#333" stroke="#333" stroke-width="0.22" font-style="italic"><tspan>Hbb</tspan><tspan font-size="5.4" dy="-3.9">th3/+</tspan></text>
<text x="358.20" y="255.90" font-size="9.6" fill="#222" stroke="#222" stroke-width="0.22" text-anchor="middle" transform="rotate(-90 358.2 255.9)" textLength="82" lengthAdjust="spacingAndGlyphs">Spleen/body weight (gr)</text>
<line x1="405.50" y1="217.50" x2="465.00" y2="217.50" stroke="#383838" stroke-width="1.2" stroke-linecap="butt"/>
<circle cx="429.94" cy="213.80" r="1.12" fill="#1c1c1c"/>
<circle cx="433.31" cy="213.80" r="1.12" fill="#1c1c1c"/>
<circle cx="436.69" cy="213.80" r="1.12" fill="#1c1c1c"/>
<circle cx="440.06" cy="213.80" r="1.12" fill="#1c1c1c"/>
<line x1="405.50" y1="226.80" x2="436.30" y2="226.80" stroke="#383838" stroke-width="1.2" stroke-linecap="butt"/>
<circle cx="415.75" cy="223.00" r="1.12" fill="#1c1c1c"/>
<circle cx="419.12" cy="223.00" r="1.12" fill="#1c1c1c"/>
<circle cx="422.49" cy="223.00" r="1.12" fill="#1c1c1c"/>
<circle cx="425.86" cy="223.00" r="1.12" fill="#1c1c1c"/>
<text font-size="8.3" fill="#222" stroke="#222" stroke-width="0.22" text-anchor="end" textLength="19.6" lengthAdjust="spacingAndGlyphs" transform="translate(408.80,298.80) rotate(-45)">CTRL</text>
<text font-size="8.3" fill="#222" stroke="#222" stroke-width="0.22" text-anchor="end" textLength="28.8" lengthAdjust="spacingAndGlyphs" transform="translate(438.00,298.80) rotate(-45)"><tspan font-style="italic">T6</tspan>-ASO</text>
<text font-size="8.3" fill="#222" stroke="#222" stroke-width="0.22" text-anchor="end" textLength="50.6" lengthAdjust="spacingAndGlyphs" transform="translate(467.20,298.80) rotate(-45)"><tspan font-style="italic">T6</tspan>-ASO+Fib+</text>
<text font-size="8.3" fill="#222" stroke="#222" stroke-width="0.22" text-anchor="end" transform="translate(473.70,305.30) rotate(-45)">EPO-2.5*10<tspan font-size="5.6" dy="-3.2">5</tspan></text>
<line x1="381.90" y1="344.30" x2="480.60" y2="344.30" stroke="#444" stroke-width="1.1" stroke-linecap="butt"/>
<text x="431.00" y="357.10" font-size="8.6" fill="#333" stroke="#333" stroke-width="0.22" text-anchor="middle"><tspan font-style="italic">Hbb</tspan><tspan font-size="5.6" dy="-3.4" font-style="italic">th3/+</tspan></text>
<line x1="48.30" y1="77.30" x2="48.30" y2="95.30" stroke="#1a1a1a" stroke-width="1.0" stroke-linecap="butt"/>
<line x1="45.30" y1="77.30" x2="51.30" y2="77.30" stroke="#1a1a1a" stroke-width="1.1" stroke-linecap="butt"/>
<line x1="45.30" y1="95.30" x2="51.30" y2="95.30" stroke="#1a1a1a" stroke-width="1.1" stroke-linecap="butt"/>
<line x1="42.10" y1="86.30" x2="54.50" y2="86.30" stroke="#1a1a1a" stroke-width="1.3" stroke-linecap="butt"/>
<circle cx="48.30" cy="63.30" r="1.25" fill="#4c9f22"/>
<circle cx="48.30" cy="69.60" r="1.25" fill="#4c9f22"/>
<circle cx="48.30" cy="74.30" r="1.25" fill="#4c9f22"/>
<circle cx="44.60" cy="81.60" r="1.25" fill="#4c9f22"/>
<circle cx="45.50" cy="84.00" r="1.25" fill="#4c9f22"/>
<circle cx="47.50" cy="84.50" r="1.25" fill="#4c9f22"/>
<circle cx="50.00" cy="84.20" r="1.25" fill="#4c9f22"/>
<circle cx="52.30" cy="84.80" r="1.25" fill="#4c9f22"/>
<circle cx="53.50" cy="85.50" r="1.25" fill="#4c9f22"/>
<circle cx="44.00" cy="86.00" r="1.25" fill="#4c9f22"/>
<circle cx="48.00" cy="86.50" r="1.25" fill="#4c9f22"/>
<circle cx="46.50" cy="89.00" r="1.25" fill="#4c9f22"/>
<circle cx="48.50" cy="88.50" r="1.25" fill="#4c9f22"/>
<circle cx="50.50" cy="87.80" r="1.25" fill="#4c9f22"/>
<circle cx="51.50" cy="91.30" r="1.25" fill="#4c9f22"/>
<circle cx="45.00" cy="92.50" r="1.25" fill="#4c9f22"/>
<circle cx="43.50" cy="93.60" r="1.25" fill="#4c9f22"/>
<circle cx="45.70" cy="94.60" r="1.25" fill="#4c9f22"/>
<circle cx="47.30" cy="95.60" r="1.25" fill="#4c9f22"/>
<circle cx="49.20" cy="96.20" r="1.25" fill="#4c9f22"/>
<circle cx="51.20" cy="97.20" r="1.25" fill="#4c9f22"/>
<circle cx="53.00" cy="97.60" r="1.25" fill="#4c9f22"/>
<circle cx="50.50" cy="98.10" r="1.25" fill="#4c9f22"/>
<line x1="42.30" y1="86.30" x2="54.70" y2="86.30" stroke="#1a1a1a" stroke-width="1.2" stroke-linecap="butt"/>
<line x1="66.40" y1="62.20" x2="66.40" y2="71.70" stroke="#1a1a1a" stroke-width="1.0" stroke-linecap="butt"/>
<line x1="63.90" y1="62.20" x2="68.90" y2="62.20" stroke="#1a1a1a" stroke-width="1.1" stroke-linecap="butt"/>
<line x1="63.90" y1="71.70" x2="68.90" y2="71.70" stroke="#1a1a1a" stroke-width="1.1" stroke-linecap="butt"/>
<line x1="61.50" y1="67.00" x2="71.30" y2="67.00" stroke="#1a1a1a" stroke-width="1.3" stroke-linecap="butt"/>
<rect x="65.25" y="56.55" width="2.3" height="2.3" fill="#3e0b57"/>
<rect x="64.15" y="61.05" width="2.3" height="2.3" fill="#3e0b57"/>
<rect x="66.35" y="60.95" width="2.3" height="2.3" fill="#3e0b57"/>
<rect x="60.75" y="64.65" width="2.3" height="2.3" fill="#3e0b57"/>
<rect x="62.45" y="66.25" width="2.3" height="2.3" fill="#3e0b57"/>
<rect x="64.05" y="65.65" width="2.3" height="2.3" fill="#3e0b57"/>
<rect x="66.65" y="65.35" width="2.3" height="2.3" fill="#3e0b57"/>
<rect x="68.65" y="65.65" width="2.3" height="2.3" fill="#3e0b57"/>
<rect x="70.25" y="65.95" width="2.3" height="2.3" fill="#3e0b57"/>
<rect x="63.05" y="67.95" width="2.3" height="2.3" fill="#3e0b57"/>
<rect x="65.35" y="67.95" width="2.3" height="2.3" fill="#3e0b57"/>
<rect x="63.35" y="70.25" width="2.3" height="2.3" fill="#3e0b57"/>
<rect x="65.65" y="70.55" width="2.3" height="2.3" fill="#3e0b57"/>
<rect x="67.65" y="70.55" width="2.3" height="2.3" fill="#3e0b57"/>
<rect x="65.25" y="75.45" width="2.3" height="2.3" fill="#3e0b57"/>
<polygon points="81.80,47.75 83.35,50.45 80.25,50.45" fill="#f29b0a"/>
<polygon points="87.90,48.05 89.45,50.75 86.35,50.75" fill="#f29b0a"/>
<polygon points="84.70,52.85 86.25,55.55 83.15,55.55" fill="#f29b0a"/>
<line x1="84.90" y1="47.50" x2="84.90" y2="53.50" stroke="#1a1a1a" stroke-width="1.0" stroke-linecap="butt"/>
<line x1="82.00" y1="47.50" x2="87.80" y2="47.50" stroke="#1a1a1a" stroke-width="1.1" stroke-linecap="butt"/>
<line x1="82.00" y1="53.50" x2="87.80" y2="53.50" stroke="#1a1a1a" stroke-width="1.1" stroke-linecap="butt"/>
<line x1="79.00" y1="50.30" x2="90.80" y2="50.30" stroke="#1a1a1a" stroke-width="1.3" stroke-linecap="butt"/>
<polygon points="99.20,54.05 100.75,56.75 97.65,56.75" fill="#2b7b62"/>
<polygon points="103.00,54.05 104.55,56.75 101.45,56.75" fill="#2b7b62"/>
<polygon points="107.30,57.85 108.85,60.55 105.75,60.55" fill="#2b7b62"/>
<line x1="102.80" y1="54.50" x2="102.80" y2="59.20" stroke="#1a1a1a" stroke-width="1.0" stroke-linecap="butt"/>
<line x1="99.50" y1="54.50" x2="106.10" y2="54.50" stroke="#1a1a1a" stroke-width="1.1" stroke-linecap="butt"/>
<line x1="99.50" y1="59.20" x2="106.10" y2="59.20" stroke="#1a1a1a" stroke-width="1.1" stroke-linecap="butt"/>
<line x1="96.90" y1="57.30" x2="108.70" y2="57.30" stroke="#1a1a1a" stroke-width="1.3" stroke-linecap="butt"/>
<line x1="121.40" y1="47.70" x2="121.40" y2="70.30" stroke="#1a1a1a" stroke-width="1.3" stroke-linecap="butt"/>
<line x1="118.10" y1="47.70" x2="124.70" y2="47.70" stroke="#1a1a1a" stroke-width="1.1" stroke-linecap="butt"/>
<line x1="118.10" y1="70.30" x2="124.70" y2="70.30" stroke="#1a1a1a" stroke-width="1.1" stroke-linecap="butt"/>
<line x1="115.20" y1="59.50" x2="127.60" y2="59.50" stroke="#1a1a1a" stroke-width="1.3" stroke-linecap="butt"/>
<polygon points="121.40,51.60 122.90,48.99 119.90,48.99" fill="#9b92e6"/>
<polygon points="121.40,56.60 122.90,53.99 119.90,53.99" fill="#9b92e6"/>
<polygon points="121.40,73.41 122.90,70.79 119.90,70.79" fill="#9b92e6"/>
<circle cx="219.30" cy="68.30" r="1.25" fill="#4c9f22"/>
<circle cx="220.80" cy="69.70" r="1.25" fill="#4c9f22"/>
<circle cx="218.00" cy="71.30" r="1.25" fill="#4c9f22"/>
<circle cx="221.50" cy="71.50" r="1.25" fill="#4c9f22"/>
<circle cx="216.50" cy="73.00" r="1.25" fill="#4c9f22"/>
<circle cx="219.00" cy="73.20" r="1.25" fill="#4c9f22"/>
<circle cx="222.50" cy="73.20" r="1.25" fill="#4c9f22"/>
<circle cx="224.50" cy="73.80" r="1.25" fill="#4c9f22"/>
<circle cx="217.00" cy="75.50" r="1.25" fill="#4c9f22"/>
<circle cx="219.50" cy="75.80" r="1.25" fill="#4c9f22"/>
<circle cx="221.80" cy="75.50" r="1.25" fill="#4c9f22"/>
<circle cx="215.00" cy="77.50" r="1.25" fill="#4c9f22"/>
<circle cx="217.50" cy="77.80" r="1.25" fill="#4c9f22"/>
<circle cx="220.50" cy="77.20" r="1.25" fill="#4c9f22"/>
<circle cx="223.00" cy="77.80" r="1.25" fill="#4c9f22"/>
<circle cx="225.00" cy="78.50" r="1.25" fill="#4c9f22"/>
<circle cx="216.00" cy="76.20" r="1.25" fill="#4c9f22"/>
<line x1="220.00" y1="72.50" x2="220.00" y2="77.00" stroke="#1a1a1a" stroke-width="1.0" stroke-linecap="butt"/>
<line x1="216.50" y1="72.50" x2="223.50" y2="72.50" stroke="#1a1a1a" stroke-width="1.1" stroke-linecap="butt"/>
<line x1="216.50" y1="77.00" x2="223.50" y2="77.00" stroke="#1a1a1a" stroke-width="1.1" stroke-linecap="butt"/>
<line x1="214.20" y1="74.50" x2="225.80" y2="74.50" stroke="#1a1a1a" stroke-width="1.3" stroke-linecap="butt"/>
<line x1="237.80" y1="65.50" x2="237.80" y2="71.00" stroke="#1a1a1a" stroke-width="1.0" stroke-linecap="butt"/>
<line x1="234.80" y1="65.50" x2="240.80" y2="65.50" stroke="#1a1a1a" stroke-width="1.1" stroke-linecap="butt"/>
<line x1="234.80" y1="71.00" x2="240.80" y2="71.00" stroke="#1a1a1a" stroke-width="1.1" stroke-linecap="butt"/>
<line x1="232.30" y1="68.30" x2="243.30" y2="68.30" stroke="#1a1a1a" stroke-width="1.3" stroke-linecap="butt"/>
<rect x="232.85" y="63.35" width="2.3" height="2.3" fill="#3e0b57"/>
<rect x="234.85" y="64.35" width="2.3" height="2.3" fill="#3e0b57"/>
<rect x="238.35" y="63.65" width="2.3" height="2.3" fill="#3e0b57"/>
<rect x="240.35" y="64.15" width="2.3" height="2.3" fill="#3e0b57"/>
<rect x="231.85" y="66.35" width="2.3" height="2.3" fill="#3e0b57"/>
<rect x="234.35" y="66.65" width="2.3" height="2.3" fill="#3e0b57"/>
<rect x="236.85" y="66.35" width="2.3" height="2.3" fill="#3e0b57"/>
<rect x="239.35" y="66.05" width="2.3" height="2.3" fill="#3e0b57"/>
<rect x="241.85" y="66.55" width="2.3" height="2.3" fill="#3e0b57"/>
<rect x="233.35" y="68.85" width="2.3" height="2.3" fill="#3e0b57"/>
<rect x="235.85" y="68.85" width="2.3" height="2.3" fill="#3e0b57"/>
<rect x="238.35" y="68.65" width="2.3" height="2.3" fill="#3e0b57"/>
<rect x="240.85" y="69.05" width="2.3" height="2.3" fill="#3e0b57"/>
<rect x="234.85" y="70.85" width="2.3" height="2.3" fill="#3e0b57"/>
<rect x="238.85" y="71.15" width="2.3" height="2.3" fill="#3e0b57"/>
<rect x="241.85" y="70.85" width="2.3" height="2.3" fill="#3e0b57"/>
<line x1="250.00" y1="63.10" x2="262.50" y2="63.10" stroke="#1a1a1a" stroke-width="1.3" stroke-linecap="butt"/>
<polygon points="252.50,61.45 254.05,64.15 250.95,64.15" fill="#f29b0a"/>
<polygon points="256.30,62.15 257.85,64.85 254.75,64.85" fill="#f29b0a"/>
<polygon points="260.30,61.85 261.85,64.55 258.75,64.55" fill="#f29b0a"/>
<line x1="274.50" y1="63.20" x2="274.50" y2="65.40" stroke="#1a1a1a" stroke-width="1.0" stroke-linecap="butt"/>
<line x1="271.50" y1="63.20" x2="277.50" y2="63.20" stroke="#1a1a1a" stroke-width="1.1" stroke-linecap="butt"/>
<line x1="271.50" y1="65.40" x2="277.50" y2="65.40" stroke="#1a1a1a" stroke-width="1.1" stroke-linecap="butt"/>
<line x1="268.60" y1="64.30" x2="280.40" y2="64.30" stroke="#1a1a1a" stroke-width="1.3" stroke-linecap="butt"/>
<polygon points="270.50,60.95 272.05,63.65 268.95,63.65" fill="#2b7b62"/>
<polygon points="274.50,63.15 276.05,65.85 272.95,65.85" fill="#2b7b62"/>
<polygon points="278.50,63.65 280.05,66.35 276.95,66.35" fill="#2b7b62"/>
<line x1="293.20" y1="62.70" x2="293.20" y2="69.50" stroke="#1a1a1a" stroke-width="1.0" stroke-linecap="butt"/>
<line x1="289.70" y1="62.70" x2="296.70" y2="62.70" stroke="#1a1a1a" stroke-width="1.1" stroke-linecap="butt"/>
<line x1="289.70" y1="69.50" x2="296.70" y2="69.50" stroke="#1a1a1a" stroke-width="1.1" stroke-linecap="butt"/>
<line x1="287.20" y1="66.40" x2="299.20" y2="66.40" stroke="#1a1a1a" stroke-width="1.3" stroke-linecap="butt"/>
<polygon points="290.00,64.51 291.50,61.90 288.50,61.90" fill="#9b92e6"/>
<polygon points="296.20,66.11 297.70,63.49 294.70,63.49" fill="#9b92e6"/>
<polygon points="293.20,71.81 294.70,69.19 291.70,69.19" fill="#9b92e6"/>
<line x1="398.10" y1="58.10" x2="398.10" y2="76.00" stroke="#1a1a1a" stroke-width="1.0" stroke-linecap="butt"/>
<line x1="394.90" y1="58.10" x2="401.30" y2="58.10" stroke="#1a1a1a" stroke-width="1.1" stroke-linecap="butt"/>
<line x1="394.90" y1="76.00" x2="401.30" y2="76.00" stroke="#1a1a1a" stroke-width="1.1" stroke-linecap="butt"/>
<line x1="392.10" y1="66.90" x2="404.10" y2="66.90" stroke="#1a1a1a" stroke-width="1.3" stroke-linecap="butt"/>
<circle cx="397.70" cy="52.60" r="1.25" fill="#4c9f22"/>
<circle cx="396.20" cy="54.90" r="1.25" fill="#4c9f22"/>
<circle cx="399.70" cy="54.90" r="1.25" fill="#4c9f22"/>
<circle cx="396.90" cy="56.90" r="1.25" fill="#4c9f22"/>
<circle cx="398.90" cy="59.40" r="1.25" fill="#4c9f22"/>
<circle cx="395.10" cy="61.20" r="1.25" fill="#4c9f22"/>
<circle cx="399.40" cy="61.50" r="1.25" fill="#4c9f22"/>
<circle cx="396.90" cy="62.90" r="1.25" fill="#4c9f22"/>
<circle cx="400.80" cy="63.40" r="1.25" fill="#4c9f22"/>
<circle cx="396.00" cy="65.20" r="1.25" fill="#4c9f22"/>
<circle cx="398.30" cy="64.90" r="1.25" fill="#4c9f22"/>
<circle cx="399.70" cy="65.70" r="1.25" fill="#4c9f22"/>
<circle cx="398.10" cy="68.00" r="1.25" fill="#4c9f22"/>
<circle cx="397.20" cy="72.00" r="1.25" fill="#4c9f22"/>
<circle cx="400.00" cy="72.00" r="1.25" fill="#4c9f22"/>
<circle cx="402.30" cy="72.00" r="1.25" fill="#4c9f22"/>
<circle cx="393.10" cy="74.10" r="1.25" fill="#4c9f22"/>
<circle cx="396.60" cy="73.00" r="1.25" fill="#4c9f22"/>
<circle cx="394.30" cy="74.90" r="1.25" fill="#4c9f22"/>
<circle cx="396.60" cy="78.30" r="1.25" fill="#4c9f22"/>
<circle cx="398.90" cy="80.60" r="1.25" fill="#4c9f22"/>
<circle cx="398.10" cy="86.00" r="1.25" fill="#4c9f22"/>
<line x1="392.00" y1="66.90" x2="404.00" y2="66.90" stroke="#1a1a1a" stroke-width="1.2" stroke-linecap="butt"/>
<line x1="410.00" y1="91.40" x2="422.50" y2="91.40" stroke="#1a1a1a" stroke-width="1.2" stroke-linecap="butt"/>
<line x1="416.20" y1="87.50" x2="416.20" y2="95.00" stroke="#1a1a1a" stroke-width="1.0" stroke-linecap="butt"/>
<line x1="413.20" y1="87.50" x2="419.20" y2="87.50" stroke="#1a1a1a" stroke-width="1.0" stroke-linecap="butt"/>
<rect x="415.05" y="81.65" width="2.3" height="2.3" fill="#3e0b57"/>
<rect x="410.85" y="87.35" width="2.3" height="2.3" fill="#3e0b57"/>
<rect x="413.35" y="86.85" width="2.3" height="2.3" fill="#3e0b57"/>
<rect x="415.85" y="87.05" width="2.3" height="2.3" fill="#3e0b57"/>
<rect x="418.35" y="87.35" width="2.3" height="2.3" fill="#3e0b57"/>
<rect x="420.35" y="88.35" width="2.3" height="2.3" fill="#3e0b57"/>
<rect x="411.85" y="88.85" width="2.3" height="2.3" fill="#3e0b57"/>
<rect x="414.35" y="88.45" width="2.3" height="2.3" fill="#3e0b57"/>
<rect x="416.85" y="88.65" width="2.3" height="2.3" fill="#3e0b57"/>
<rect x="419.35" y="89.35" width="2.3" height="2.3" fill="#3e0b57"/>
<rect x="410.35" y="90.05" width="2.3" height="2.3" fill="#3e0b57"/>
<rect x="414.85" y="89.85" width="2.3" height="2.3" fill="#3e0b57"/>
<rect x="417.35" y="90.05" width="2.3" height="2.3" fill="#3e0b57"/>
<rect x="419.85" y="90.35" width="2.3" height="2.3" fill="#3e0b57"/>
<rect x="412.35" y="91.65" width="2.3" height="2.3" fill="#3e0b57"/>
<rect x="414.85" y="91.45" width="2.3" height="2.3" fill="#3e0b57"/>
<rect x="417.35" y="91.65" width="2.3" height="2.3" fill="#3e0b57"/>
<rect x="419.85" y="91.85" width="2.3" height="2.3" fill="#3e0b57"/>
<rect x="411.35" y="92.85" width="2.3" height="2.3" fill="#3e0b57"/>
<rect x="413.85" y="93.15" width="2.3" height="2.3" fill="#3e0b57"/>
<rect x="416.35" y="93.05" width="2.3" height="2.3" fill="#3e0b57"/>
<rect x="418.85" y="92.65" width="2.3" height="2.3" fill="#3e0b57"/>
<rect x="415.05" y="98.75" width="2.3" height="2.3" fill="#3e0b57"/>
<line x1="434.40" y1="86.80" x2="434.40" y2="96.50" stroke="#1a1a1a" stroke-width="1.0" stroke-linecap="butt"/>
<line x1="430.50" y1="86.80" x2="438.30" y2="86.80" stroke="#1a1a1a" stroke-width="1.1" stroke-linecap="butt"/>
<line x1="430.50" y1="96.50" x2="438.30" y2="96.50" stroke="#1a1a1a" stroke-width="1.1" stroke-linecap="butt"/>
<line x1="428.20" y1="91.80" x2="440.60" y2="91.80" stroke="#1a1a1a" stroke-width="1.3" stroke-linecap="butt"/>
<polygon points="434.40,85.45 435.95,88.15 432.85,88.15" fill="#f29b0a"/>
<polygon points="434.40,90.45 435.95,93.15 432.85,93.15" fill="#f29b0a"/>
<polygon points="434.40,95.15 435.95,97.85 432.85,97.85" fill="#f29b0a"/>
<line x1="453.00" y1="86.20" x2="453.00" y2="88.30" stroke="#1a1a1a" stroke-width="1.0" stroke-linecap="butt"/>
<line x1="450.00" y1="86.20" x2="456.00" y2="86.20" stroke="#1a1a1a" stroke-width="1.1" stroke-linecap="butt"/>
<line x1="450.00" y1="88.30" x2="456.00" y2="88.30" stroke="#1a1a1a" stroke-width="1.1" stroke-linecap="butt"/>
<line x1="447.30" y1="87.20" x2="458.70" y2="87.20" stroke="#1a1a1a" stroke-width="1.3" stroke-linecap="butt"/>
<polygon points="449.00,84.35 450.55,87.05 447.45,87.05" fill="#2b7b62"/>
<polygon points="453.00,86.15 454.55,88.85 451.45,88.85" fill="#2b7b62"/>
<polygon points="456.00,86.65 457.55,89.35 454.45,89.35" fill="#2b7b62"/>
<line x1="470.70" y1="89.40" x2="470.70" y2="95.80" stroke="#1a1a1a" stroke-width="1.0" stroke-linecap="butt"/>
<line x1="466.50" y1="89.40" x2="474.90" y2="89.40" stroke="#1a1a1a" stroke-width="1.1" stroke-linecap="butt"/>
<line x1="466.50" y1="95.80" x2="474.90" y2="95.80" stroke="#1a1a1a" stroke-width="1.1" stroke-linecap="butt"/>
<line x1="464.70" y1="92.20" x2="476.70" y2="92.20" stroke="#1a1a1a" stroke-width="1.3" stroke-linecap="butt"/>
<polygon points="467.00,91.31 468.50,88.69 465.50,88.69" fill="#9b92e6"/>
<polygon points="474.50,93.31 476.00,90.69 473.00,90.69" fill="#9b92e6"/>
<polygon points="470.70,97.31 472.20,94.69 469.20,94.69" fill="#9b92e6"/>
<line x1="55.50" y1="263.30" x2="55.50" y2="277.80" stroke="#1a1a1a" stroke-width="1.0" stroke-linecap="butt"/>
<line x1="51.30" y1="263.30" x2="59.70" y2="263.30" stroke="#1a1a1a" stroke-width="1.1" stroke-linecap="butt"/>
<line x1="51.30" y1="277.80" x2="59.70" y2="277.80" stroke="#1a1a1a" stroke-width="1.1" stroke-linecap="butt"/>
<line x1="46.50" y1="270.70" x2="64.50" y2="270.70" stroke="#1a1a1a" stroke-width="1.3" stroke-linecap="butt"/>
<circle cx="55.40" cy="251.70" r="1.25" fill="#4c9f22"/>
<circle cx="55.40" cy="256.80" r="1.25" fill="#4c9f22"/>
<circle cx="55.40" cy="261.10" r="1.25" fill="#4c9f22"/>
<circle cx="47.50" cy="267.50" r="1.25" fill="#4c9f22"/>
<circle cx="51.00" cy="267.50" r="1.25" fill="#4c9f22"/>
<circle cx="54.00" cy="268.50" r="1.25" fill="#4c9f22"/>
<circle cx="58.00" cy="268.00" r="1.25" fill="#4c9f22"/>
<circle cx="61.00" cy="268.00" r="1.25" fill="#4c9f22"/>
<circle cx="64.00" cy="268.50" r="1.25" fill="#4c9f22"/>
<circle cx="52.00" cy="272.00" r="1.25" fill="#4c9f22"/>
<circle cx="56.00" cy="273.00" r="1.25" fill="#4c9f22"/>
<circle cx="59.00" cy="271.50" r="1.25" fill="#4c9f22"/>
<circle cx="61.50" cy="274.00" r="1.25" fill="#4c9f22"/>
<circle cx="50.00" cy="276.00" r="1.25" fill="#4c9f22"/>
<circle cx="52.00" cy="278.00" r="1.25" fill="#4c9f22"/>
<circle cx="56.00" cy="279.00" r="1.25" fill="#4c9f22"/>
<circle cx="58.00" cy="280.00" r="1.25" fill="#4c9f22"/>
<circle cx="61.00" cy="280.00" r="1.25" fill="#4c9f22"/>
<circle cx="49.50" cy="274.50" r="1.25" fill="#4c9f22"/>
<circle cx="61.00" cy="277.00" r="1.25" fill="#4c9f22"/>
<line x1="46.50" y1="270.70" x2="64.60" y2="270.70" stroke="#1a1a1a" stroke-width="1.2" stroke-linecap="butt"/>
<line x1="84.90" y1="251.50" x2="84.90" y2="259.50" stroke="#1a1a1a" stroke-width="1.0" stroke-linecap="butt"/>
<line x1="80.70" y1="251.50" x2="89.10" y2="251.50" stroke="#1a1a1a" stroke-width="1.1" stroke-linecap="butt"/>
<line x1="80.70" y1="259.50" x2="89.10" y2="259.50" stroke="#1a1a1a" stroke-width="1.1" stroke-linecap="butt"/>
<line x1="76.60" y1="255.50" x2="93.20" y2="255.50" stroke="#1a1a1a" stroke-width="1.3" stroke-linecap="butt"/>
<rect x="83.75" y="245.95" width="2.3" height="2.3" fill="#3e0b57"/>
<rect x="80.65" y="249.65" width="2.3" height="2.3" fill="#3e0b57"/>
<rect x="86.75" y="249.65" width="2.3" height="2.3" fill="#3e0b57"/>
<rect x="76.35" y="253.85" width="2.3" height="2.3" fill="#3e0b57"/>
<rect x="79.35" y="254.35" width="2.3" height="2.3" fill="#3e0b57"/>
<rect x="81.85" y="253.85" width="2.3" height="2.3" fill="#3e0b57"/>
<rect x="84.85" y="253.85" width="2.3" height="2.3" fill="#3e0b57"/>
<rect x="87.85" y="254.15" width="2.3" height="2.3" fill="#3e0b57"/>
<rect x="91.85" y="253.85" width="2.3" height="2.3" fill="#3e0b57"/>
<rect x="78.85" y="257.25" width="2.3" height="2.3" fill="#3e0b57"/>
<rect x="81.85" y="257.25" width="2.3" height="2.3" fill="#3e0b57"/>
<rect x="84.85" y="257.25" width="2.3" height="2.3" fill="#3e0b57"/>
<rect x="89.35" y="257.45" width="2.3" height="2.3" fill="#3e0b57"/>
<rect x="83.75" y="261.85" width="2.3" height="2.3" fill="#3e0b57"/>
<line x1="114.10" y1="236.00" x2="114.10" y2="247.70" stroke="#1a1a1a" stroke-width="1.0" stroke-linecap="butt"/>
<line x1="109.40" y1="236.00" x2="118.80" y2="236.00" stroke="#1a1a1a" stroke-width="1.1" stroke-linecap="butt"/>
<line x1="109.40" y1="247.70" x2="118.80" y2="247.70" stroke="#1a1a1a" stroke-width="1.1" stroke-linecap="butt"/>
<line x1="104.90" y1="242.00" x2="123.30" y2="242.00" stroke="#1a1a1a" stroke-width="1.3" stroke-linecap="butt"/>
<polygon points="114.10,234.65 115.65,237.35 112.55,237.35" fill="#46a6ea"/>
<polygon points="112.50,242.65 114.05,245.35 110.95,245.35" fill="#46a6ea"/>
<polygon points="115.50,246.35 117.05,249.05 113.95,249.05" fill="#46a6ea"/>
<circle cx="226.00" cy="248.80" r="1.25" fill="#4c9f22"/>
<circle cx="228.00" cy="249.50" r="1.25" fill="#4c9f22"/>
<circle cx="219.00" cy="252.50" r="1.25" fill="#4c9f22"/>
<circle cx="222.00" cy="253.00" r="1.25" fill="#4c9f22"/>
<circle cx="225.00" cy="252.50" r="1.25" fill="#4c9f22"/>
<circle cx="228.00" cy="253.00" r="1.25" fill="#4c9f22"/>
<circle cx="231.00" cy="253.50" r="1.25" fill="#4c9f22"/>
<circle cx="218.00" cy="257.50" r="1.25" fill="#4c9f22"/>
<circle cx="221.00" cy="258.50" r="1.25" fill="#4c9f22"/>
<circle cx="224.00" cy="257.00" r="1.25" fill="#4c9f22"/>
<circle cx="227.00" cy="257.00" r="1.25" fill="#4c9f22"/>
<circle cx="230.00" cy="256.00" r="1.25" fill="#4c9f22"/>
<circle cx="233.00" cy="258.00" r="1.25" fill="#4c9f22"/>
<circle cx="235.00" cy="259.50" r="1.25" fill="#4c9f22"/>
<circle cx="222.00" cy="255.50" r="1.25" fill="#4c9f22"/>
<circle cx="229.00" cy="255.00" r="1.25" fill="#4c9f22"/>
<line x1="227.00" y1="252.50" x2="227.00" y2="257.80" stroke="#1a1a1a" stroke-width="1.0" stroke-linecap="butt"/>
<line x1="223.00" y1="252.50" x2="231.00" y2="252.50" stroke="#1a1a1a" stroke-width="1.1" stroke-linecap="butt"/>
<line x1="223.00" y1="257.80" x2="231.00" y2="257.80" stroke="#1a1a1a" stroke-width="1.1" stroke-linecap="butt"/>
<line x1="217.50" y1="255.30" x2="236.50" y2="255.30" stroke="#1a1a1a" stroke-width="1.3" stroke-linecap="butt"/>
<rect x="246.85" y="243.85" width="2.3" height="2.3" fill="#3e0b57"/>
<rect x="249.85" y="244.85" width="2.3" height="2.3" fill="#3e0b57"/>
<rect x="252.85" y="245.35" width="2.3" height="2.3" fill="#3e0b57"/>
<rect x="256.85" y="244.85" width="2.3" height="2.3" fill="#3e0b57"/>
<rect x="259.85" y="244.35" width="2.3" height="2.3" fill="#3e0b57"/>
<rect x="262.85" y="245.35" width="2.3" height="2.3" fill="#3e0b57"/>
<rect x="247.35" y="247.85" width="2.3" height="2.3" fill="#3e0b57"/>
<rect x="249.85" y="248.35" width="2.3" height="2.3" fill="#3e0b57"/>
<rect x="252.85" y="247.35" width="2.3" height="2.3" fill="#3e0b57"/>
<rect x="255.85" y="247.85" width="2.3" height="2.3" fill="#3e0b57"/>
<rect x="258.85" y="247.35" width="2.3" height="2.3" fill="#3e0b57"/>
<rect x="261.85" y="247.85" width="2.3" height="2.3" fill="#3e0b57"/>
<rect x="263.85" y="248.85" width="2.3" height="2.3" fill="#3e0b57"/>
<rect x="251.85" y="250.35" width="2.3" height="2.3" fill="#3e0b57"/>
<rect x="255.85" y="250.35" width="2.3" height="2.3" fill="#3e0b57"/>
<rect x="259.85" y="250.85" width="2.3" height="2.3" fill="#3e0b57"/>
<rect x="263.85" y="251.35" width="2.3" height="2.3" fill="#3e0b57"/>
<line x1="247.00" y1="248.50" x2="266.00" y2="248.50" stroke="#1a1a1a" stroke-width="1.2" stroke-linecap="butt"/>
<line x1="285.60" y1="241.10" x2="285.60" y2="246.80" stroke="#1a1a1a" stroke-width="1.0" stroke-linecap="butt"/>
<line x1="281.00" y1="241.10" x2="290.20" y2="241.10" stroke="#1a1a1a" stroke-width="1.1" stroke-linecap="butt"/>
<line x1="281.00" y1="246.80" x2="290.20" y2="246.80" stroke="#1a1a1a" stroke-width="1.1" stroke-linecap="butt"/>
<line x1="276.00" y1="244.00" x2="295.20" y2="244.00" stroke="#1a1a1a" stroke-width="1.3" stroke-linecap="butt"/>
<polygon points="285.60,239.75 287.15,242.45 284.05,242.45" fill="#46a6ea"/>
<polygon points="284.50,243.15 286.05,245.85 282.95,245.85" fill="#46a6ea"/>
<polygon points="287.00,245.45 288.55,248.15 285.45,248.15" fill="#46a6ea"/>
<line x1="405.50" y1="238.50" x2="405.50" y2="257.00" stroke="#1a1a1a" stroke-width="1.0" stroke-linecap="butt"/>
<line x1="401.00" y1="238.50" x2="410.00" y2="238.50" stroke="#1a1a1a" stroke-width="1.1" stroke-linecap="butt"/>
<line x1="401.00" y1="257.00" x2="410.00" y2="257.00" stroke="#1a1a1a" stroke-width="1.1" stroke-linecap="butt"/>
<line x1="396.00" y1="248.00" x2="415.00" y2="248.00" stroke="#1a1a1a" stroke-width="1.3" stroke-linecap="butt"/>
<circle cx="405.20" cy="233.40" r="1.25" fill="#4c9f22"/>
<circle cx="401.60" cy="235.40" r="1.25" fill="#4c9f22"/>
<circle cx="408.50" cy="235.40" r="1.25" fill="#4c9f22"/>
<circle cx="403.40" cy="237.80" r="1.25" fill="#4c9f22"/>
<circle cx="407.00" cy="240.60" r="1.25" fill="#4c9f22"/>
<circle cx="400.10" cy="242.10" r="1.25" fill="#4c9f22"/>
<circle cx="404.00" cy="243.50" r="1.25" fill="#4c9f22"/>
<circle cx="409.70" cy="244.10" r="1.25" fill="#4c9f22"/>
<circle cx="401.60" cy="246.00" r="1.25" fill="#4c9f22"/>
<circle cx="405.20" cy="248.60" r="1.25" fill="#4c9f22"/>
<circle cx="403.40" cy="252.90" r="1.25" fill="#4c9f22"/>
<circle cx="407.00" cy="252.90" r="1.25" fill="#4c9f22"/>
<circle cx="410.00" cy="252.90" r="1.25" fill="#4c9f22"/>
<circle cx="413.30" cy="252.90" r="1.25" fill="#4c9f22"/>
<circle cx="397.00" cy="254.90" r="1.25" fill="#4c9f22"/>
<circle cx="400.40" cy="255.80" r="1.25" fill="#4c9f22"/>
<circle cx="403.40" cy="259.30" r="1.25" fill="#4c9f22"/>
<circle cx="406.60" cy="261.50" r="1.25" fill="#4c9f22"/>
<circle cx="405.20" cy="266.90" r="1.25" fill="#4c9f22"/>
<circle cx="406.50" cy="238.80" r="1.25" fill="#4c9f22"/>
<line x1="395.70" y1="248.00" x2="414.80" y2="248.00" stroke="#1a1a1a" stroke-width="1.2" stroke-linecap="butt"/>
<line x1="434.40" y1="268.40" x2="434.40" y2="276.00" stroke="#1a1a1a" stroke-width="1.0" stroke-linecap="butt"/>
<line x1="429.40" y1="268.40" x2="439.40" y2="268.40" stroke="#1a1a1a" stroke-width="1.1" stroke-linecap="butt"/>
<line x1="429.40" y1="276.00" x2="439.40" y2="276.00" stroke="#1a1a1a" stroke-width="1.1" stroke-linecap="butt"/>
<line x1="424.40" y1="272.10" x2="444.40" y2="272.10" stroke="#1a1a1a" stroke-width="1.3" stroke-linecap="butt"/>
<rect x="433.25" y="262.45" width="2.3" height="2.3" fill="#3e0b57"/>
<rect x="426.35" y="268.85" width="2.3" height="2.3" fill="#3e0b57"/>
<rect x="428.35" y="268.65" width="2.3" height="2.3" fill="#3e0b57"/>
<rect x="430.35" y="268.85" width="2.3" height="2.3" fill="#3e0b57"/>
<rect x="432.35" y="268.65" width="2.3" height="2.3" fill="#3e0b57"/>
<rect x="434.35" y="268.85" width="2.3" height="2.3" fill="#3e0b57"/>
<rect x="436.35" y="268.65" width="2.3" height="2.3" fill="#3e0b57"/>
<rect x="438.35" y="269.05" width="2.3" height="2.3" fill="#3e0b57"/>
<rect x="440.35" y="269.35" width="2.3" height="2.3" fill="#3e0b57"/>
<rect x="441.65" y="271.05" width="2.3" height="2.3" fill="#3e0b57"/>
<rect x="427.35" y="270.65" width="2.3" height="2.3" fill="#3e0b57"/>
<rect x="429.85" y="270.85" width="2.3" height="2.3" fill="#3e0b57"/>
<rect x="432.85" y="270.65" width="2.3" height="2.3" fill="#3e0b57"/>
<rect x="435.85" y="270.85" width="2.3" height="2.3" fill="#3e0b57"/>
<rect x="438.85" y="270.85" width="2.3" height="2.3" fill="#3e0b57"/>
<rect x="424.35" y="273.35" width="2.3" height="2.3" fill="#3e0b57"/>
<rect x="426.35" y="273.45" width="2.3" height="2.3" fill="#3e0b57"/>
<rect x="428.35" y="273.35" width="2.3" height="2.3" fill="#3e0b57"/>
<rect x="430.35" y="273.45" width="2.3" height="2.3" fill="#3e0b57"/>
<rect x="439.65" y="273.15" width="2.3" height="2.3" fill="#3e0b57"/>
<rect x="433.25" y="279.75" width="2.3" height="2.3" fill="#3e0b57"/>
<line x1="463.60" y1="269.60" x2="463.60" y2="273.30" stroke="#1a1a1a" stroke-width="1.0" stroke-linecap="butt"/>
<line x1="458.60" y1="269.60" x2="468.60" y2="269.60" stroke="#1a1a1a" stroke-width="1.1" stroke-linecap="butt"/>
<line x1="458.60" y1="273.30" x2="468.60" y2="273.30" stroke="#1a1a1a" stroke-width="1.1" stroke-linecap="butt"/>
<line x1="454.20" y1="271.20" x2="473.00" y2="271.20" stroke="#1a1a1a" stroke-width="1.3" stroke-linecap="butt"/>
<polygon points="457.00,267.95 458.55,270.65 455.45,270.65" fill="#46a6ea"/>
<polygon points="463.60,270.95 465.15,273.65 462.05,273.65" fill="#46a6ea"/>
<polygon points="470.00,272.15 471.55,274.85 468.45,274.85" fill="#46a6ea"/>
<rect x="0" y="0" width="520" height="1.2" fill="#000"/><rect x="0" y="0" width="1.05" height="367" fill="#000"/><rect x="518.8" y="0" width="1.2" height="367" fill="#000"/><rect x="0" y="365.5" width="520" height="1.5" fill="#000"/>
</svg></div></body></html>
